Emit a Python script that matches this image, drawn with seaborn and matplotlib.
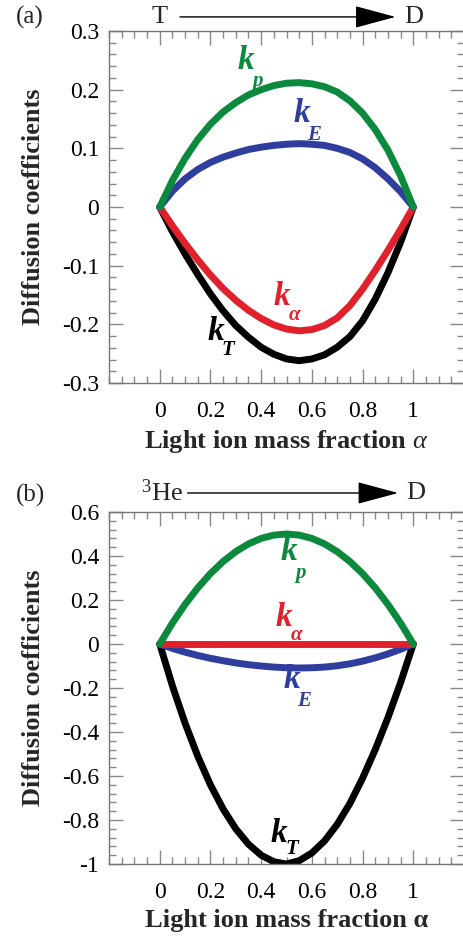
import numpy as np
import pandas as pd
import matplotlib
matplotlib.use("Agg")
import matplotlib.pyplot as plt
import seaborn as sns
from matplotlib.ticker import MultipleLocator
from matplotlib.transforms import blended_transform_factory

sns.set_style("ticks")
SERIF = ['Liberation Serif', 'DejaVu Serif']
plt.rcParams['font.family'] = SERIF
plt.rcParams['font.serif'] = SERIF
plt.rcParams['mathtext.fontset'] = 'custom'
plt.rcParams['mathtext.rm'] = 'Liberation Serif'
plt.rcParams['mathtext.it'] = 'Liberation Serif:italic'
plt.rcParams['mathtext.bf'] = 'Liberation Serif:bold'

alpha = [0, 0.05, 0.1, 0.15, 0.2, 0.25, 0.3, 0.35, 0.4, 0.45, 0.5,
         0.55, 0.6, 0.65, 0.7, 0.75, 0.8, 0.85, 0.9, 0.95, 1.0]

# Panel (a): T -> D
a_kp = [0, 0.045, 0.083, 0.115, 0.141, 0.162, 0.178, 0.191, 0.200, 0.207, 0.211,
        0.212, 0.210, 0.205, 0.196, 0.181, 0.160, 0.132, 0.097, 0.053, 0]
a_kE = [0, 0.027, 0.048, 0.064, 0.076, 0.085, 0.092, 0.098, 0.102, 0.105, 0.107,
        0.108, 0.107, 0.105, 0.100, 0.093, 0.082, 0.067, 0.048, 0.026, 0]
a_ka = [0, -0.032, -0.062, -0.090, -0.116, -0.139, -0.159, -0.176, -0.190, -0.201, -0.208,
        -0.211, -0.209, -0.202, -0.189, -0.168, -0.140, -0.108, -0.074, -0.038, 0]
a_kT = [0, -0.042, -0.080, -0.115, -0.148, -0.177, -0.202, -0.222, -0.239, -0.251, -0.259,
        -0.262, -0.259, -0.252, -0.239, -0.221, -0.194, -0.157, -0.112, -0.060, 0]

# Panel (b): 3He -> D
b_kp = [0, 0.095, 0.180, 0.255, 0.320, 0.375, 0.420, 0.455, 0.480, 0.495, 0.500,
        0.495, 0.480, 0.455, 0.420, 0.375, 0.320, 0.255, 0.180, 0.095, 0]
b_ka = [0, 0, 0, 0, 0, 0, 0, 0, 0, 0, 0, 0, 0, 0, 0, 0, 0, 0, 0, 0, 0]
b_kE = [0, -0.020, -0.037, -0.052, -0.065, -0.076, -0.086, -0.094, -0.100, -0.105, -0.108,
        -0.109, -0.108, -0.105, -0.099, -0.090, -0.078, -0.063, -0.045, -0.024, 0]
b_kT = [0, -0.190, -0.360, -0.510, -0.640, -0.750, -0.840, -0.910, -0.960, -0.990, -1.000,
        -0.985, -0.950, -0.895, -0.820, -0.725, -0.610, -0.480, -0.335, -0.175, 0]

xticks = [0, 0.2, 0.4, 0.6, 0.8, 1]
xticklabels = ["0", "0.2", "0.4", "0.6", "0.8", "1"]
a_yticks = [-0.3, -0.2, -0.1, 0, 0.1, 0.2, 0.3]
a_yticklabels = ["-0.3", "-0.2", "-0.1", "0", "0.1", "0.2", "0.3"]
b_yticks = [-1, -0.8, -0.6, -0.4, -0.2, 0, 0.2, 0.4, 0.6]
b_yticklabels = ["-1", "-0.8", "-0.6", "-0.4", "-0.2", "0", "0.2", "0.4", "0.6"]

GREEN = "#0b8a3e"
BLUE = "#2f3e9e"
RED = "#e0202b"
BLACK = "#000000"
LW = 5.0

W, H = 463, 938
fig = plt.figure(figsize=(W / 100, H / 100), dpi=100)


def px_axes(left, top, right, bottom):
    return fig.add_axes([left / W, 1 - bottom / H, (right - left) / W, (bottom - top) / H])


axa = px_axes(109, 31, 464, 383)
axb = px_axes(109, 512, 464, 864)


def style(ax, yticks, ylabels, ylim, ymin):
    ax.set_xlim(-0.2, 1.2)
    ax.set_ylim(*ylim)
    ax.set_xticks(xticks)
    ax.set_xticklabels(xticklabels, fontfamily=SERIF, fontsize=17)
    ax.set_yticks(yticks)
    ax.set_yticklabels(ylabels, fontfamily=SERIF, fontsize=17)
    ax.xaxis.set_minor_locator(MultipleLocator(0.05))
    ax.yaxis.set_minor_locator(MultipleLocator(ymin))
    ax.tick_params(which='both', direction='in', top=True, right=True,
                   color='#888888', width=1.0, labelcolor='black')
    ax.tick_params(which='major', length=10)
    ax.tick_params(which='minor', length=5)
    ax.tick_params(axis='x', which='both', pad=13)
    ax.tick_params(axis='y', which='both', pad=7)
    for s in ax.spines.values():
        s.set_color('#777777')
        s.set_linewidth(1.0)
    ax.set_ylabel("Diffusion coefficients", fontsize=19, fontweight='bold',
                  fontfamily=SERIF, labelpad=12)


def draw(ax, series):
    for vals, col in series:
        df = pd.DataFrame({"alpha": alpha, "k": vals})
        sns.lineplot(data=df, x="alpha", y="k", ax=ax, color=col, linewidth=LW,
                     solid_capstyle='round', solid_joinstyle='round', estimator=None, sort=False)
    ax.set_xlabel("")


def klabel(ax, x, y, sub, col, dx=0.05, dy=None, subsize=15):
    ax.text(x, y, "k", color=col, fontsize=24, fontstyle='italic', fontweight='bold',
            fontfamily=SERIF, ha='center', va='center')
    ax.text(x + dx, y + dy, sub, color=col, fontsize=subsize, fontstyle='italic',
            fontweight='bold', fontfamily=SERIF, ha='center', va='center')


# Panel a
draw(axa, [(a_kT, BLACK), (a_ka, RED), (a_kE, BLUE), (a_kp, GREEN)])
style(axa, a_yticks, a_yticklabels, (-0.3, 0.3), 0.02)
axa.set_xlabel("Light ion mass fraction $\\alpha$", fontsize=19, fontweight='bold',
               fontfamily=SERIF, labelpad=4)
klabel(axa, 0.34, 0.25, "p", GREEN, dx=0.045, dy=-0.036)
klabel(axa, 0.56, 0.16, "E", BLUE, dx=0.05, dy=-0.037)
klabel(axa, 0.48, -0.153, "α", RED, dx=0.05, dy=-0.031)
klabel(axa, 0.22, -0.213, "T", BLACK, dx=0.05, dy=-0.03)

# Panel b
draw(axb, [(b_kT, BLACK), (b_kE, BLUE), (b_ka, RED), (b_kp, GREEN)])
style(axb, b_yticks, b_yticklabels, (-1.0, 0.6), 0.04)
axb.set_xlabel("Light ion mass fraction α", fontsize=19, fontweight='bold',
               fontfamily=SERIF, labelpad=4)
klabel(axb, 0.51, 0.42, "p", GREEN, dx=0.045, dy=-0.095)
klabel(axb, 0.49, 0.12, "α", RED, dx=0.05, dy=-0.08)
klabel(axb, 0.52, -0.16, "E", BLUE, dx=0.05, dy=-0.097)
klabel(axb, 0.47, -0.86, "T", BLACK, dx=0.05, dy=-0.07)

ARROW = dict(arrowstyle='-|>,head_length=1.3,head_width=0.35',
             color='black', lw=1.0, mutation_scale=20, shrinkA=0, shrinkB=0)

# Top annotations
tra = blended_transform_factory(axa.transData, axa.transAxes)
axa.text(0.0, 1.04, "T", transform=tra, fontsize=19, fontfamily=SERIF, ha='center', va='center')
axa.text(1.0, 1.04, "D", transform=tra, fontsize=19, fontfamily=SERIF, ha='center', va='center')
axa.annotate("", xy=(0.93, 1.04), xytext=(0.08, 1.04), xycoords=tra, textcoords=tra,
             arrowprops=ARROW)

trb = blended_transform_factory(axb.transData, axb.transAxes)
axb.text(0.01, 1.054, "$^{3}$He", transform=trb, fontsize=19, ha='center', va='center')
axb.text(1.01, 1.054, "D", transform=trb, fontsize=19, fontfamily=SERIF, ha='center', va='center')
axb.annotate("", xy=(0.94, 1.054), xytext=(0.11, 1.054), xycoords=trb, textcoords=trb,
             arrowprops=ARROW)

fig.text(30 / W, 1 - 17 / H, "(a)", fontsize=18, fontfamily=SERIF, ha='center', va='center')
fig.text(30 / W, 1 - 495 / H, "(b)", fontsize=18, fontfamily=SERIF, ha='center', va='center')

fig.savefig("out.png", dpi=100)
